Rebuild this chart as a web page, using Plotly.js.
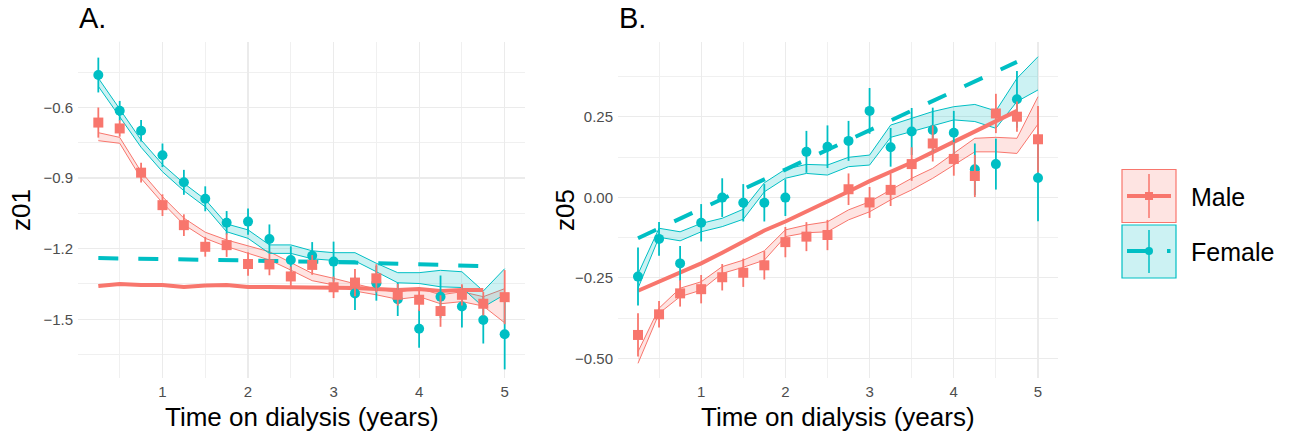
<!DOCTYPE html>
<html><head><meta charset="utf-8">
<script src="https://cdn.plot.ly/plotly-3.0.1.min.js"></script>
<style>html,body{margin:0;padding:0;background:#fff}#chart{width:1289px;height:436px}</style>
</head><body><div id="chart"></div>
<script>
// ---------- data ----------
const time = [0.25,0.5,0.75,1,1.25,1.5,1.75,2,2.25,2.5,2.75,3,3.25,3.5,3.75,4,4.25,4.5,4.75,5];
const fitTime = [0.25,0.5,0.75,1,1.25,1.5,1.75,2,2.25,2.5,2.75,3,3.25,3.5,3.75,4,4.25,4.5,4.75];
const groups = ["Male","Female"];

// Panel A: z01
const maleObsA   = [-0.664,-0.689,-0.877,-1.015,-1.100,-1.192,-1.185,-1.265,-1.267,-1.318,-1.269,-1.364,-1.344,-1.326,-1.396,-1.417,-1.465,-1.396,-1.434,-1.406];
const maleErrA   = [0.064,0.035,0.042,0.046,0.046,0.042,0.050,0.050,0.046,0.042,0.042,0.046,0.058,0.060,0.046,0.048,0.067,0.045,0.050,0.115];
const femaleObsA = [-0.462,-0.614,-0.699,-0.803,-0.918,-0.988,-1.090,-1.085,-1.159,-1.248,-1.230,-1.255,-1.390,-1.347,-1.415,-1.540,-1.404,-1.446,-1.503,-1.564];
const femaleErrA = [0.074,0.042,0.046,0.050,0.053,0.053,0.050,0.056,0.062,0.058,0.058,0.085,0.071,0.074,0.071,0.081,0.090,0.089,0.100,0.149];
const maleLoA    = [-0.741,-0.752,-0.901,-1.005,-1.098,-1.156,-1.191,-1.220,-1.248,-1.291,-1.336,-1.354,-1.380,-1.396,-1.415,-1.404,-1.434,-1.425,-1.444,-1.515];
const maleHiA    = [-0.707,-0.727,-0.873,-0.979,-1.070,-1.130,-1.163,-1.188,-1.213,-1.259,-1.305,-1.326,-1.350,-1.372,-1.385,-1.368,-1.396,-1.383,-1.404,-1.370];
const femaleLoA  = [-0.510,-0.639,-0.769,-0.873,-0.954,-1.022,-1.128,-1.156,-1.220,-1.220,-1.243,-1.250,-1.252,-1.298,-1.345,-1.348,-1.362,-1.365,-1.448,-1.395];
const femaleHiA  = [-0.475,-0.605,-0.738,-0.842,-0.922,-0.991,-1.095,-1.120,-1.184,-1.184,-1.209,-1.217,-1.217,-1.262,-1.302,-1.302,-1.292,-1.298,-1.380,-1.285];
const maleFitA   = [-1.359,-1.350,-1.354,-1.354,-1.363,-1.356,-1.354,-1.363,-1.363,-1.363,-1.363,-1.367,-1.367,-1.371,-1.376,-1.371,-1.380,-1.376,-1.376];
const femaleFitA = [-1.240,-1.241,-1.242,-1.242,-1.245,-1.245,-1.247,-1.250,-1.252,-1.255,-1.255,-1.257,-1.259,-1.261,-1.263,-1.264,-1.267,-1.270,-1.274];

// Panel B: z05
const maleObsB   = [-0.427,-0.363,-0.298,-0.285,-0.248,-0.234,-0.211,-0.139,-0.122,-0.117,0.025,-0.016,0.023,0.103,0.167,0.119,0.066,0.260,0.250,0.180];
const maleErrB   = [0.067,0.041,0.041,0.044,0.041,0.044,0.044,0.047,0.045,0.047,0.049,0.048,0.050,0.052,0.056,0.052,0.065,0.061,0.047,0.103];
const femaleObsB = [-0.246,-0.129,-0.205,-0.079,-0.001,-0.017,-0.017,-0.001,0.141,0.157,0.175,0.268,0.155,0.204,0.209,0.200,0.087,0.103,0.304,0.060];
const femaleErrB = [0.090,0.052,0.054,0.058,0.060,0.058,0.058,0.057,0.065,0.066,0.062,0.071,0.060,0.073,0.069,0.068,0.080,0.079,0.088,0.134];
const maleLoB    = [-0.515,-0.360,-0.308,-0.288,-0.236,-0.217,-0.195,-0.122,-0.110,-0.107,-0.070,-0.045,-0.008,0.023,0.059,0.100,0.141,0.141,0.136,0.227];
const maleHiB    = [-0.479,-0.344,-0.282,-0.262,-0.215,-0.195,-0.166,-0.101,-0.086,-0.076,-0.039,-0.014,0.023,0.059,0.090,0.136,0.183,0.186,0.183,0.312];
const femaleLoB  = [-0.282,-0.124,-0.135,-0.107,-0.091,-0.068,0.017,0.059,0.074,0.069,0.095,0.100,0.186,0.204,0.224,0.240,0.235,0.214,0.297,0.333];
const femaleHiB  = [-0.238,-0.096,-0.107,-0.081,-0.065,-0.037,0.045,0.087,0.102,0.100,0.124,0.131,0.224,0.245,0.266,0.281,0.288,0.268,0.369,0.436];
const maleFitB   = [-0.290,-0.262,-0.234,-0.205,-0.172,-0.138,-0.103,-0.075,-0.045,-0.015,0.018,0.050,0.078,0.108,0.140,0.172,0.205,0.237,0.268];
const femaleFitB = [-0.127,-0.097,-0.066,-0.036,-0.006,0.025,0.055,0.086,0.117,0.147,0.178,0.208,0.239,0.269,0.300,0.330,0.360,0.390,0.420];

const panelTitles = ["A.","B."];
const yTitles = ["z01","z05"];
const xTitle = "Time on dialysis (years)";

// ---------- styles ----------
const RED = "#F8766D", CYAN = "#00BFC4";
const RED_F = "rgba(248,118,109,0.2)", CYAN_F = "rgba(0,191,196,0.2)";
const FONT = "Liberation Sans, Arial, Helvetica, sans-serif";
const W = 1289, H = 436;
const px = v => v / W, py = v => 1 - v / H;

function ribbon(lo, hi, color, fillc, xa, ya) {
  return [
    {x: time, y: lo, mode: "lines", line: {color: color, width: 1}, xaxis: xa, yaxis: ya, showlegend: false, hoverinfo: "skip"},
    {x: time, y: hi, mode: "lines", line: {color: color, width: 1}, fill: "tonexty", fillcolor: fillc, xaxis: xa, yaxis: ya, showlegend: false, hoverinfo: "skip"}
  ];
}
function fitLine(y, color, dash, xa, ya) {
  return {x: fitTime, y: y, mode: "lines", line: {color: color, width: 4, dash: dash}, xaxis: xa, yaxis: ya, showlegend: false};
}
function points(y, err, color, symbol, size, xa, ya) {
  return {x: time, y: y, mode: "markers", marker: {color: color, symbol: symbol, size: size},
    error_y: {type: "data", array: err, visible: true, color: color, thickness: 1.8, width: 0},
    xaxis: xa, yaxis: ya, showlegend: false};
}

const traces = [
  ...ribbon(maleLoA, maleHiA, RED, RED_F, "x", "y"),
  ...ribbon(femaleLoA, femaleHiA, CYAN, CYAN_F, "x", "y"),
  fitLine(maleFitA, RED, "solid", "x", "y"),
  fitLine(femaleFitA, CYAN, "20px,20px", "x", "y"),
  points(femaleObsA, femaleErrA, CYAN, "circle", 10, "x", "y"),
  points(maleObsA, maleErrA, RED, "square", 10, "x", "y"),
  ...ribbon(maleLoB, maleHiB, RED, RED_F, "x2", "y2"),
  ...ribbon(femaleLoB, femaleHiB, CYAN, CYAN_F, "x2", "y2"),
  fitLine(maleFitB, RED, "solid", "x2", "y2"),
  fitLine(femaleFitB, CYAN, "20px,20px", "x2", "y2"),
  points(femaleObsB, femaleErrB, CYAN, "circle", 10, "x2", "y2"),
  points(maleObsB, maleErrB, RED, "square", 10, "x2", "y2")
];

const GRID = "#EBEBEB";
const GRID_MINOR = "#F0F0F0";
function xAxis(dom, anchor) {
  return {domain: dom, anchor: anchor, range: [0.0125, 5.2375], tick0: 0, dtick: 1, ticks: "", showline: false, zeroline: false,
    showgrid: true, gridcolor: GRID, gridwidth: 1.2, ticklabelstandoff: 3,
    tickfont: {family: FONT, size: 15, color: "#4D4D4D"},
    minor: {tick0: 0.5, dtick: 0.5, showgrid: true, gridcolor: GRID_MINOR, gridwidth: 1, ticks: ""}};
}
function yAxis(range, tick0, dtick, fmt, anchor) {
  return {domain: [58/436, 394/436], anchor: anchor, range: range, tick0: tick0, dtick: dtick, tickformat: fmt, ticks: "",
    showline: false, zeroline: false, showgrid: true, gridcolor: GRID, gridwidth: 1.2, ticklabelstandoff: 4,
    tickfont: {family: FONT, size: 15, color: "#4D4D4D"},
    minor: {tick0: tick0, dtick: dtick/2, showgrid: true, gridcolor: GRID_MINOR, gridwidth: 1, ticks: ""}};
}

const ann = [];
const titleFont = {family: FONT, size: 29, color: "#000"};
const axFont = {family: FONT, size: 26, color: "#000"};
ann.push({text: panelTitles[0], x: px(77), y: py(18), xref: "paper", yref: "paper", xanchor: "left", yanchor: "middle", showarrow: false, font: titleFont});
ann.push({text: panelTitles[1], x: px(617), y: py(18), xref: "paper", yref: "paper", xanchor: "left", yanchor: "middle", showarrow: false, font: titleFont});
ann.push({text: xTitle, x: px(301.5), y: py(417), xref: "paper", yref: "paper", xanchor: "center", yanchor: "middle", showarrow: false, font: axFont});
ann.push({text: xTitle, x: px(838), y: py(417), xref: "paper", yref: "paper", xanchor: "center", yanchor: "middle", showarrow: false, font: axFont});
ann.push({text: yTitles[0], x: px(21), y: py(210), xref: "paper", yref: "paper", xanchor: "center", yanchor: "middle", textangle: -90, showarrow: false, font: axFont});
ann.push({text: yTitles[1], x: px(565), y: py(210), xref: "paper", yref: "paper", xanchor: "center", yanchor: "middle", textangle: -90, showarrow: false, font: axFont});
// legend labels
const legFont = {family: FONT, size: 25, color: "#000"};
ann.push({text: groups[0], x: px(1189), y: py(197), xref: "paper", yref: "paper", xanchor: "left", yanchor: "middle", showarrow: false, font: legFont});
ann.push({text: groups[1], x: px(1189), y: py(252), xref: "paper", yref: "paper", xanchor: "left", yanchor: "middle", showarrow: false, font: legFont});

// legend keys (decorations)
function rect(x0, y0, x1, y1, line, fill, lw) {
  return {type: "rect", xref: "paper", yref: "paper", x0: px(x0), x1: px(x1), y0: py(y1), y1: py(y0), line: {color: line, width: lw}, fillcolor: fill, layer: "above"};
}
function seg(x0, y0, x1, y1, color, w) {
  return {type: "line", xref: "paper", yref: "paper", x0: px(x0), x1: px(x1), y0: py(y0), y1: py(y1), line: {color: color, width: w}, layer: "above"};
}
const shapes = [
  rect(1122, 169.5, 1176, 222.5, RED, RED_F, 1.2),
  seg(1127, 196, 1171, 196, RED, 4),
  seg(1149, 174, 1149, 218, RED, 1.5),
  rect(1145, 192, 1153, 200, RED, RED, 0),
  rect(1122, 225, 1176, 278, CYAN, CYAN_F, 1.2),
  seg(1127, 251, 1149, 251, CYAN, 4),
  seg(1167, 251, 1170.5, 251, CYAN, 4),
  seg(1149, 230, 1149, 273, CYAN, 1.5),
  {type: "circle", xref: "paper", yref: "paper", x0: px(1145), x1: px(1153), y0: py(255), y1: py(247), line: {color: CYAN, width: 0}, fillcolor: CYAN, layer: "above"}
];

const layout = {
  width: W, height: H, margin: {l: 0, r: 0, t: 0, b: 0},
  paper_bgcolor: "#fff", plot_bgcolor: "#fff", showlegend: false,
  font: {family: FONT},
  xaxis: xAxis([78/W, 525/W], "y"),
  yaxis: yAxis([-1.7496, -0.3216], -0.6, 0.3, ".1f", "x"),
  xaxis2: xAxis([618/W, 1058/W], "y2"),
  yaxis2: yAxis([-0.5605, 0.4817], 0, 0.25, ".2f", "x2"),
  annotations: ann,
  shapes: shapes
};

Plotly.newPlot("chart", traces, layout, {staticPlot: true, displayModeBar: false});
</script>
</body></html>
